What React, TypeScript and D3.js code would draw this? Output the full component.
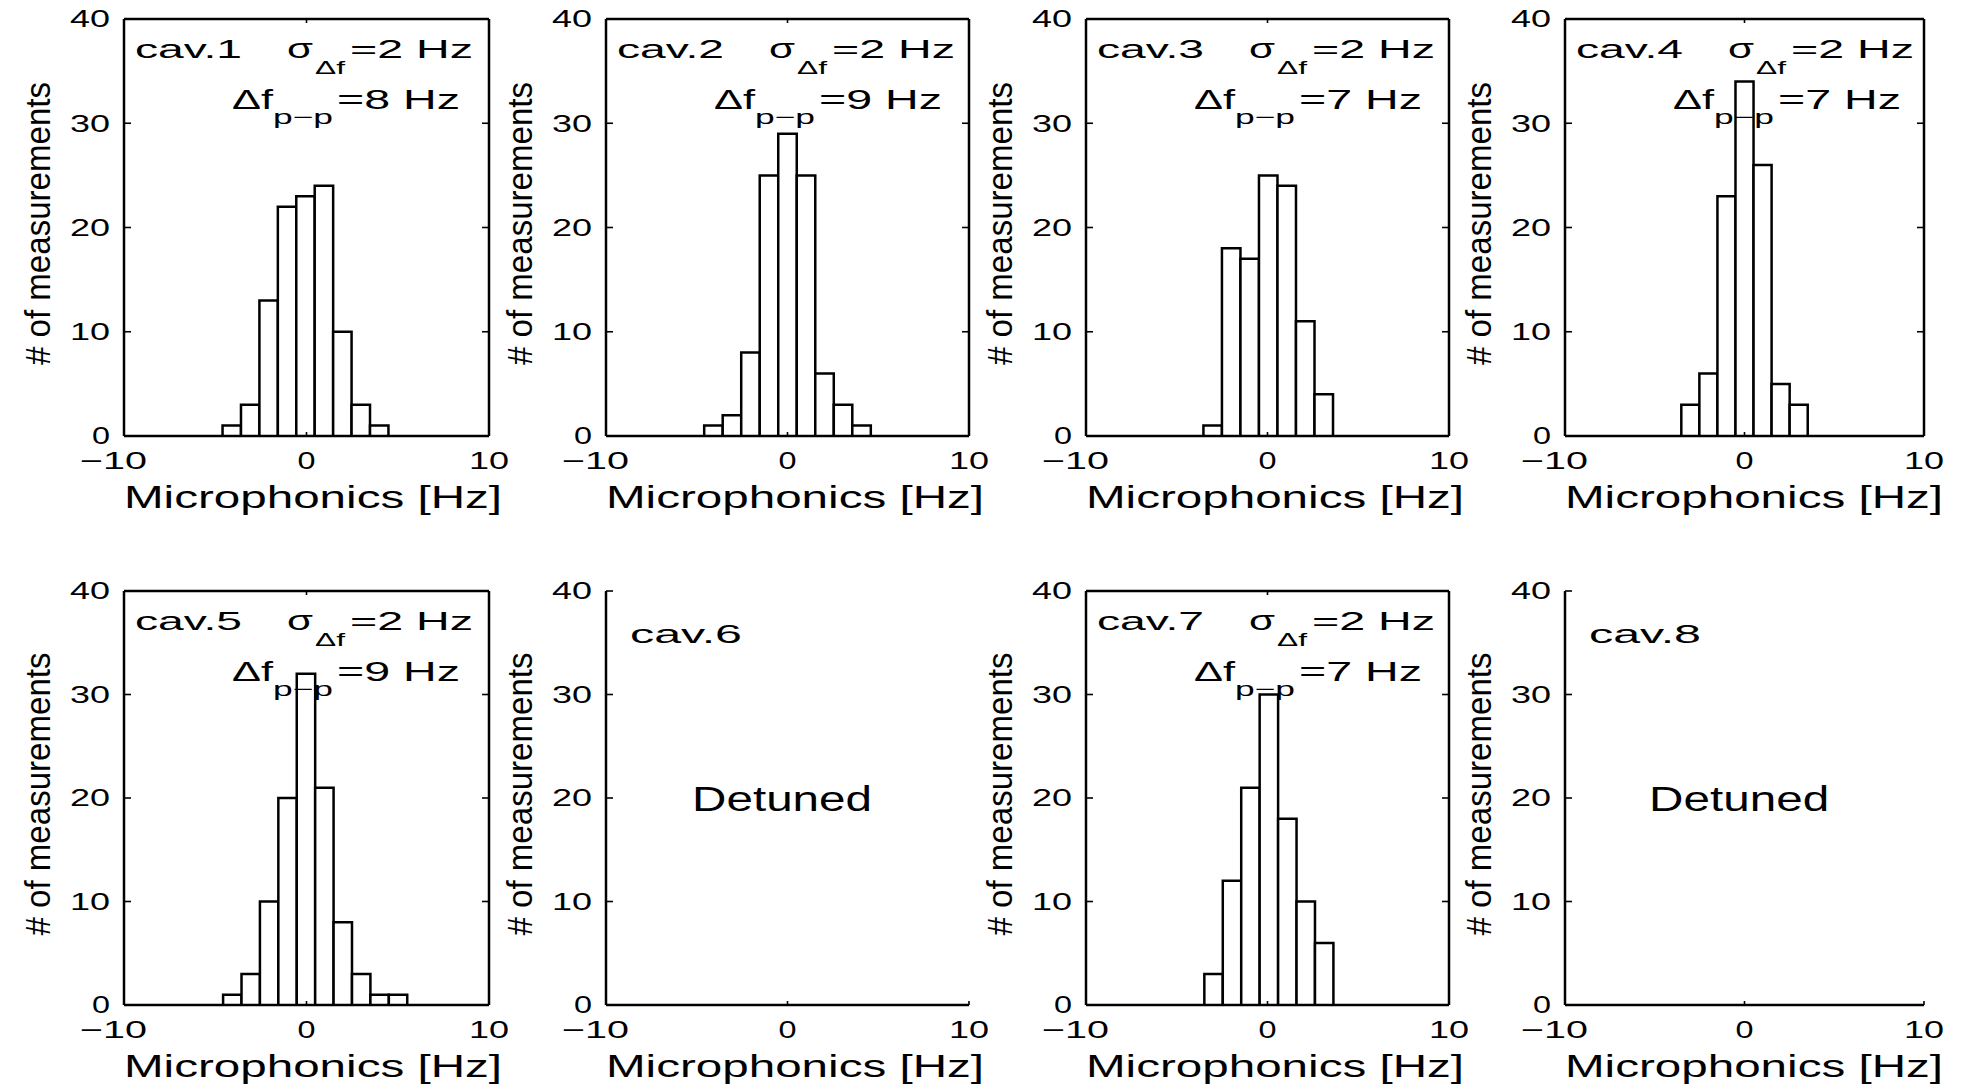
import React from "react";
import * as d3 from "d3";

// Microphonics histograms, one per cavity (100 measurements each)
const cavityNames = ["cav.1", "cav.2", "cav.3", "cav.4", "cav.5", "cav.6", "cav.7", "cav.8"];
const sigmaHz: (number | null)[] = [2, 2, 2, 2, 2, null, 2, null];
const peakToPeakHz: (number | null)[] = [8, 9, 7, 7, 9, null, 7, null];
const detunedCavities = [false, false, false, false, false, true, false, true];

// Histogram bins: left edge of first bin and bin width (Hz)
const binStart: (number | null)[] = [-4.6, -4.59, -3.53, -3.52, -4.57, null, -3.48, null];
const binWidth: (number | null)[] = [1.01, 1.02, 1.02, 1.006, 1.009, null, 1.016, null];

const counts1 = [1, 3, 13, 22, 23, 24, 10, 3, 1];
const counts2 = [1, 2, 8, 25, 29, 25, 6, 3, 1];
const counts3 = [1, 18, 17, 25, 24, 11, 4];
const counts4 = [3, 6, 23, 34, 26, 5, 3];
const counts5 = [1, 3, 10, 20, 32, 21, 8, 3, 1, 1];
const counts6: number[] = [];
const counts7 = [3, 12, 21, 30, 18, 10, 6];
const counts8: number[] = [];
const binCounts = [counts1, counts2, counts3, counts4, counts5, counts6, counts7, counts8];

const xTicks = [-10, 0, 10];
const yTicks = [0, 10, 20, 30, 40];
const xDomain: [number, number] = [-10, 10];
const yDomain: [number, number] = [0, 40];

const xLabel = "Microphonics [Hz]";
const yLabel = "# of measurements";
const detunedLabel = "Detuned";

// Panel grid geometry
const colLeft = [124, 606, 1086, 1565];
const colRight = [489, 969, 1449, 1924];
const rowTop = [19, 591];
const rowBottom = [436, 1005];

const FONT = "'Liberation Sans', Arial, Helvetica, sans-serif";
const LW = 2.5;

function T(props: {
  x: number;
  y: number;
  fs: number;
  w: number;
  anchor?: "start" | "middle" | "end";
  children: React.ReactNode;
  transform?: string;
}) {
  const { x, y, fs, w, anchor = "start", children, transform } = props;
  const left = anchor === "middle" ? x - w / 2 : anchor === "end" ? x - w : x;
  return (
    <text
      x={left}
      y={y}
      fontSize={fs}
      textLength={w}
      lengthAdjust="spacingAndGlyphs"
      transform={transform}
      fill="#000"
    >
      {children}
    </text>
  );
}

function fmtTick(v: number) {
  return v < 0 ? "\u2212" + Math.abs(v) : String(v);
}

function tickWidth(label: string) {
  if (label.length === 1) return 18;
  if (label.length === 2) return 40;
  return 67;
}

function Panel({ idx }: { idx: number }) {
  const row = Math.floor(idx / 4);
  const col = idx % 4;
  const left = colLeft[col];
  const right = colRight[col];
  const top = rowTop[row];
  const bottom = rowBottom[row];
  const x = d3.scaleLinear().domain(xDomain).range([left, right]);
  const y = d3.scaleLinear().domain(yDomain).range([bottom, top]);
  const boxed = !detunedCavities[idx];
  const counts = binCounts[idx];
  const start = binStart[idx] ?? 0;
  const width = binWidth[idx] ?? 1;
  const yTickLen = 7;
  const xTickLen = 4;

  const bars = counts.map((c, i) => {
    const x0 = start + i * width;
    const x1 = x0 + width;
    const path = d3.path();
    path.moveTo(x(x0), y(0));
    path.lineTo(x(x0), y(c));
    path.lineTo(x(x1), y(c));
    path.lineTo(x(x1), y(0));
    return (
      <path key={i} d={path.toString()} fill="#fff" stroke="#000" strokeWidth={LW} />
    );
  });

  const midY = (top + bottom) / 2 - 4;
  const yLabelLen = 283;

  return (
    <g>
      {bars}
      {/* axis lines */}
      <line x1={left} y1={bottom} x2={right} y2={bottom} stroke="#000" strokeWidth={LW} />
      <line x1={left} y1={bottom} x2={left} y2={top} stroke="#000" strokeWidth={LW} />
      {boxed && (
        <>
          <line x1={left} y1={top} x2={right} y2={top} stroke="#000" strokeWidth={LW} />
          <line x1={right} y1={top} x2={right} y2={bottom} stroke="#000" strokeWidth={LW} />
        </>
      )}
      {/* y ticks */}
      {yTicks.map((t) => (
        <g key={"yt" + t}>
          <line x1={left} x2={left + yTickLen} y1={y(t)} y2={y(t)} stroke="#000" strokeWidth={1.6} />
          {boxed && (
            <line x1={right} x2={right - yTickLen} y1={y(t)} y2={y(t)} stroke="#000" strokeWidth={1.6} />
          )}
          <T x={left - 14} y={y(t) + 8.4} fs={23.5} w={tickWidth(fmtTick(t))} anchor="end">
            {fmtTick(t)}
          </T>
        </g>
      ))}
      {/* x ticks */}
      {xTicks.map((t) => {
        const lab = fmtTick(t);
        const w = tickWidth(lab);
        const cx = t < 0 ? x(t) - 44 + w / 2 : x(t);
        return (
          <g key={"xt" + t}>
            <line x1={x(t)} x2={x(t)} y1={bottom} y2={bottom - xTickLen} stroke="#000" strokeWidth={1.6} />
            {boxed && (
              <line x1={x(t)} x2={x(t)} y1={top} y2={top + xTickLen} stroke="#000" strokeWidth={1.6} />
            )}
            <T x={cx} y={bottom + 33} fs={23.5} w={w} anchor="middle">
              {lab}
            </T>
          </g>
        );
      })}
      {/* axis labels */}
      <T x={left} y={bottom + 72} fs={31} w={378}>
        {xLabel}
      </T>
      <T
        x={-yLabelLen / 2}
        y={0}
        fs={35}
        w={yLabelLen}
        transform={`translate(${left - 74},${midY}) rotate(-90)`}
      >
        {yLabel}
      </T>
      {/* annotations */}
      {boxed ? (
        <g>
          <T x={left + 11} y={top + 38.5} fs={26.5} w={107}>
            {cavityNames[idx]}
          </T>
          <T x={left + 163} y={top + 39} fs={28} w={26}>
            σ
          </T>
          <T x={left + 191} y={top + 55} fs={17.5} w={30}>
            Δf
          </T>
          <T x={left + 226} y={top + 39} fs={26.5} w={123}>
            {`=${sigmaHz[idx]} Hz`}
          </T>
          <T x={left + 108} y={top + 90} fs={28} w={41}>
            Δf
          </T>
          <T x={left + 149} y={top + 105} fs={20} w={60}>
            p−p
          </T>
          <T x={left + 213} y={top + 90} fs={28} w={123}>
            {`=${peakToPeakHz[idx]} Hz`}
          </T>
        </g>
      ) : (
        <g>
          <T x={left + 24} y={top + 52} fs={26.5} w={112}>
            {cavityNames[idx]}
          </T>
          <T x={x(-0.3)} y={y(20) + 12.5} fs={35} w={180} anchor="middle">
            {detunedLabel}
          </T>
        </g>
      )}
    </g>
  );
}

export default function App() {
  return (
    <svg
      width={1968}
      height={1087}
      viewBox="0 0 1968 1087"
      style={{ position: "absolute", left: 0, top: 0, display: "block", background: "#fff" }}
      fontFamily={FONT}
    >
      <rect x={0} y={0} width={1968} height={1087} fill="#fff" />
      {cavityNames.map((_, i) => (
        <Panel key={i} idx={i} />
      ))}
    </svg>
  );
}
